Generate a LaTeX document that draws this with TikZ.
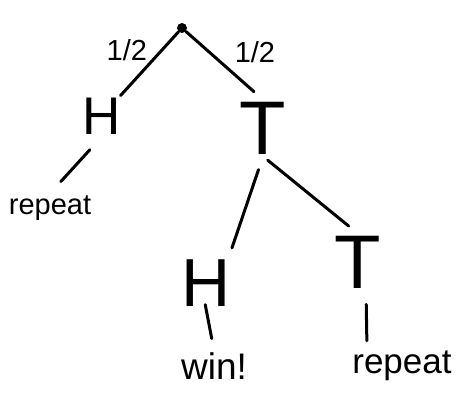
\documentclass[tikz,border=0pt]{standalone}
\usepackage{fontspec}
\setmainfont{Liberation Sans}
\begin{document}
\begin{tikzpicture}[x=1pt,y=-1pt,
  lbl/.style={font=\fontsize{#1}{#1}\selectfont, inner sep=2pt},
  word/.style={font=\fontsize{#1}{#1}\selectfont, inner sep=2pt},
  prob/.style={font=\fontsize{29}{29}\selectfont, inner sep=1pt},
  br/.style={line width=3pt, line cap=round}]
\useasboundingbox (0,0) rectangle (456,404);
\node[circle, fill=black, inner sep=0pt, minimum size=10pt] (root) at (182,28) {};
\node[lbl=53] (H1) at (102,116) {H};
\node[lbl=76] (T1) at (263,128) {T};
\node[word=29] (rep1) at (50,208) {repeat};
\node[lbl=68] (H2) at (206,283) {H};
\node[lbl=76] (T2) at (358,262) {T};
\node[word=37] (win) at (214,366) {win!};
\node[word=35] (rep2) at (402,366) {repeat};
\draw[br] (root) -- node[prob, above left, pos=0.5] {1/2} (H1);
\draw[br, shorten >=12pt] (root) -- node[prob, above right, pos=0.55, xshift=4pt, yshift=4pt] {1/2} (T1.north);
\draw[br, shorten <=18pt, shorten >=16pt] (H1.south) -- (rep1.north);
\draw[br, shorten <=14pt, shorten >=10pt] (T1.south) -- ([xshift=-4pt]H2.north east);
\draw[br, shorten <=6pt, shorten >=12pt] (T1.south) -- (T2.north);
\draw[br, shorten <=-4pt, shorten >=12pt] (H2.south) -- (win.north);
\draw[br, shorten <=14pt, shorten >=8pt] ([xshift=8pt]T2.south) -- ([xshift=-35pt]rep2.north);
\end{tikzpicture}
\end{document}
